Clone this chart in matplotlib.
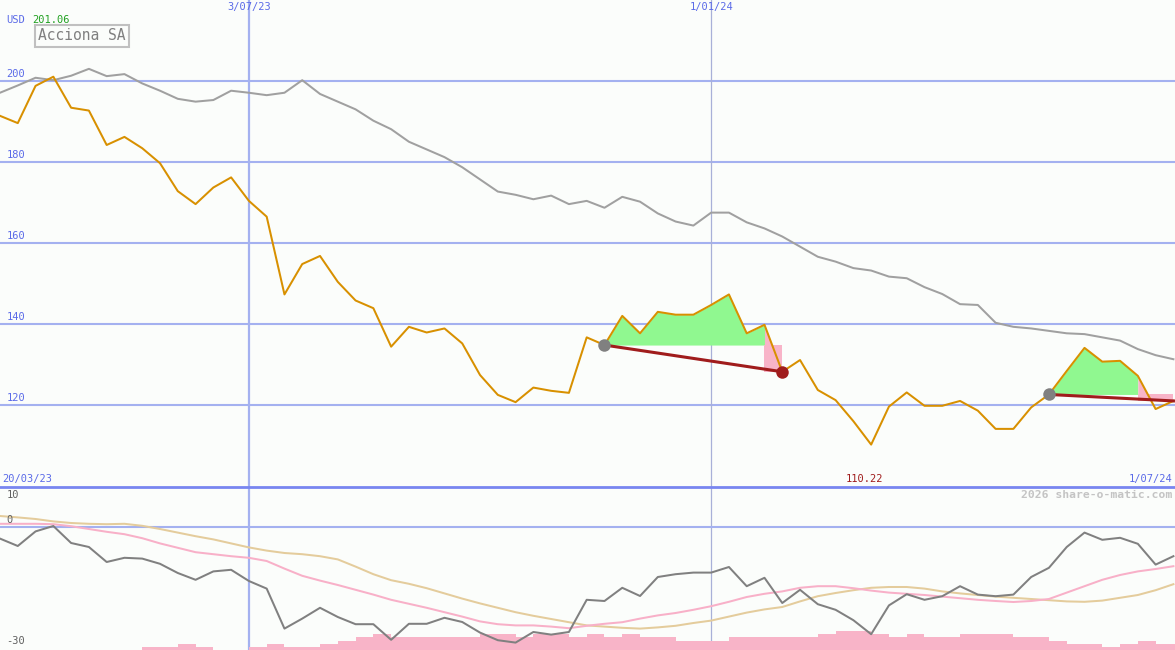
import numpy as np
import pandas as pd
import matplotlib
matplotlib.use('Agg')
import matplotlib.pyplot as plt

# weekly data, Acciona SA
dates = pd.date_range('2023-03-27', periods=67, freq='7D')

price = [191.4, 189.6, 198.8, 201.06, 193.4, 192.7, 184.2, 186.2, 183.4, 179.7,
         172.8, 169.6, 173.7, 176.2, 170.4, 166.5, 147.3, 154.8, 156.8, 150.4,
         145.8, 143.9, 134.4, 139.3, 137.9, 138.9, 135.2, 127.4, 122.5, 120.7,
         124.3, 123.5, 123.0, 136.7, 134.8, 142.0, 137.7, 143.0, 142.3, 142.3,
         144.7, 147.3, 137.7, 139.8, 128.2, 131.1, 123.7, 121.2, 116.0, 110.22,
         119.6, 123.1, 119.8, 119.8, 121.0, 118.6, 114.1, 114.1, 119.4, 122.6,
         128.4, 134.1, 130.7, 130.9, 127.2, 119.0, 121.0]

avg30 = [197.1, 198.9, 200.8, 200.2, 201.3, 203.0, 201.2, 201.7, 199.4, 197.6,
         195.6, 194.9, 195.3, 197.6, 197.1, 196.5, 197.1, 200.2, 196.8, 194.9,
         193.0, 190.2, 188.1, 185.0, 183.1, 181.2, 178.7, 175.7, 172.7, 171.9,
         170.8, 171.7, 169.6, 170.4, 168.7, 171.4, 170.2, 167.3, 165.3, 164.3,
         167.5, 167.5, 165.1, 163.6, 161.6, 159.1, 156.6, 155.4, 153.8, 153.2,
         151.7, 151.3, 149.1, 147.4, 144.9, 144.7, 140.3, 139.3, 138.9, 138.3,
         137.7, 137.5, 136.7, 135.9, 133.8, 132.3, 131.3]

momentum = [-2.9, -4.75, -1.1, 0.25, -4.0, -5.0, -8.75, -7.7, -7.9, -9.2,
            -11.5, -13.2, -11.1, -10.7, -13.5, -15.4, -25.4, -22.9, -20.2, -22.5,
            -24.3, -24.3, -28.2, -24.2, -24.2, -22.7, -23.75, -26.4, -28.3, -28.9,
            -26.25, -26.9, -26.25, -18.2, -18.5, -15.2, -17.25, -12.5, -11.8, -11.4,
            -11.4, -10.0, -14.8, -12.7, -19.0, -15.7, -19.3, -20.7, -23.3, -26.8,
            -19.6, -16.8, -18.2, -17.3, -14.8, -16.9, -17.3, -16.9, -12.5, -10.2,
            -5.0, -1.4, -3.2, -2.7, -4.2, -9.4, -7.3]

mom_fast = [0.8, 0.8, 0.8, 0.7, 0.2, -0.5, -1.2, -1.8, -2.8, -4.1,
            -5.2, -6.3, -6.8, -7.3, -7.7, -8.5, -10.4, -12.2, -13.4, -14.5,
            -15.7, -16.9, -18.2, -19.2, -20.2, -21.3, -22.4, -23.6, -24.3, -24.6,
            -24.6, -24.9, -25.3, -24.7, -24.2, -23.8, -22.9, -22.1, -21.5, -20.7,
            -19.8, -18.7, -17.5, -16.7, -16.1, -15.2, -14.8, -14.8, -15.3, -15.9,
            -16.4, -16.7, -17.0, -17.4, -17.8, -18.2, -18.5, -18.75, -18.5, -18.0,
            -16.4, -14.8, -13.2, -12.0, -11.1, -10.5, -9.8]

mom_slow = [2.75, 2.4, 2.0, 1.4, 1.0, 0.8, 0.7, 0.8, 0.3, -0.5,
            -1.4, -2.3, -3.1, -4.1, -5.1, -5.9, -6.5, -6.8, -7.3, -8.1,
            -9.9, -11.8, -13.3, -14.2, -15.3, -16.6, -17.9, -19.1, -20.2, -21.3,
            -22.2, -23.0, -23.8, -24.6, -24.9, -25.2, -25.4, -25.1, -24.7, -24.0,
            -23.4, -22.4, -21.4, -20.6, -20.0, -18.6, -17.3, -16.5, -15.8, -15.2,
            -15.0, -15.0, -15.4, -16.1, -16.6, -17.0, -17.4, -17.7, -18.0, -18.3,
            -18.6, -18.7, -18.4, -17.7, -17.0, -15.8, -14.3]

volume = [0, 0, 0, 0, 0, 0, 0, 0, 1, 1, 2, 1, 0, 0, 1, 2, 1, 1, 2, 3,
          4, 5, 4, 4, 4, 4, 4, 5, 5, 4, 5, 5, 4, 5, 4, 5, 4, 4, 3, 3,
          3, 4, 4, 4, 4, 4, 5, 6, 6, 5, 4, 5, 4, 4, 5, 5, 5, 4, 4, 3,
          2, 2, 1, 2, 3, 2, 2]

price_ticks = [120, 140, 160, 180, 200]
date_marks = ['2023-07-03', '2024-01-01']
date_labels = ['3/07/23', '1/01/24']

# trades: entry week, week where the pink part starts, exit week
trade_entry = [34, 59]
trade_turn = [43, 64]
trade_exit = [44, 66]
exit_dot = [True, False]

bg = '#fbfdfb'
gridc = '#a4b1f0'
lblc = '#5a6ae8'
orange = '#d89000'
mono = 'DejaVu Sans Mono'

idx = np.arange(len(price))
price = np.array(price)
xmax = 66.09

fig = plt.figure(figsize=(11.75, 6.5), dpi=100, facecolor=bg)
ax = fig.add_axes([0, 163 / 650, 1, 487 / 650], facecolor=bg)
bx = fig.add_axes([0, 0, 1, 163 / 650], facecolor=bg)
for a in (ax, bx):
    a.set_xlim(0, xmax)
    a.axis('off')
ax.set_ylim(99.75, 220)
bx.set_ylim(-30.75, 10)

# grid
for t in price_ticks:
    ax.axhline(t, color=gridc, lw=1.5, zorder=1)
    ax.text(0.35, t + 0.5, str(t), color=lblc, fontsize=7.5, family=mono,
            va='bottom', ha='left')
for d, lab, w, c in zip(date_marks, date_labels, [1.6, 0.9], [gridc, '#a8b0d8']):
    i = dates.get_loc(pd.Timestamp(d))
    ax.axvline(i, color=c, lw=w, zorder=1)
    bx.axvline(i, color=c, lw=w, zorder=1)
    ax.text(i, 219.6, lab, color=lblc, fontsize=7.5, family=mono,
            ha='center', va='top')

# lines
ax.plot(idx, avg30, color='#a0a0a0', lw=1.45, zorder=3)

for e, t, x, dot in zip(trade_entry, trade_turn, trade_exit, exit_dot):
    lvl = price[e]
    seg = slice(e, t + 1)
    ax.fill_between(idx[seg], price[seg], lvl, where=price[seg] >= lvl,
                    interpolate=True, color='#90f890', lw=0, zorder=2)
    seg = slice(t, x + 1)
    ax.fill_between(idx[seg], price[seg], lvl, where=price[seg] >= lvl,
                    interpolate=True, color='#f8b4c8', lw=0, zorder=2)
    ax.fill_between([t, x], lvl, price[x], color='#f8b4c8', lw=0, zorder=2)

ax.plot(idx, price, color=orange, lw=1.45, zorder=4)

for e, x, dot in zip(trade_entry, trade_exit, exit_dot):
    ax.plot([e, x], [price[e], price[x]], color='#a01c1c', lw=2.2, zorder=5)
    ax.plot(e, price[e], 'o', color='#808080', ms=9, mec='none', zorder=6)
    if dot:
        ax.plot(x, price[x], 'o', color='#a01c1c', ms=9, mec='none', zorder=6)

# texts in the price panel
fig.text(6 / 1175, 1 - 20 / 650, 'USD', color=lblc, fontsize=7.5, family=mono,
         va='center')
fig.text(32 / 1175, 1 - 20 / 650, '%.2f' % price.max(), color='#20a020',
         fontsize=7.5, family=mono, va='center')
fig.text(82 / 1175, 1 - 36 / 650, 'Acciona SA', color='#808080', fontsize=10.5,
         family=mono, ha='center', va='center',
         bbox=dict(boxstyle='square,pad=0.22', fc=bg, ec='#c0c0c0', lw=1.5))
ax.text(0.1, 100.4, '20/03/23', color=lblc, fontsize=7.5, family=mono,
        va='bottom', ha='left')
imin = int(np.argmin(price))
ax.text(imin - 0.35, 100.4, '%.2f' % price.min(), color='#a01c1c', fontsize=7.5,
        family=mono, va='bottom', ha='center')
ax.text(xmax - 0.15, 100.4, '1/07/24', color=lblc, fontsize=7.5, family=mono,
        va='bottom', ha='right')

# momentum panel
bx.axhline(0, color=gridc, lw=1.5, zorder=1)
bx.axhline(10, color='#7886f0', lw=2, zorder=3, clip_on=False)
bx.bar(idx, np.array(volume) * 0.79, bottom=-30.75, width=1, align='edge',
       color='#f8b4c8', lw=0, zorder=1.5)
bx.plot(idx, mom_slow, color='#e4cc9c', lw=1.45, zorder=2)
bx.plot(idx, mom_fast, color='#f8b0c8', lw=1.45, zorder=2)
bx.plot(idx, momentum, color='#808080', lw=1.45, zorder=3)
bx.text(0.35, 8, '10', color='#606060', fontsize=7.5, family=mono, va='center')
bx.text(0.35, 0.4, '0', color='#606060', fontsize=7.5, family=mono, va='bottom')
bx.text(0.35, -28.5, '-30', color='#606060', fontsize=7.5, family=mono,
        va='center')
bx.text(xmax - 0.15, 8, '2026 share-o-matic.com', color='#c4c4c4', fontsize=8.2,
        family=mono, weight='bold', ha='right', va='center')

fig.savefig('out.png', dpi=100, facecolor=bg)
